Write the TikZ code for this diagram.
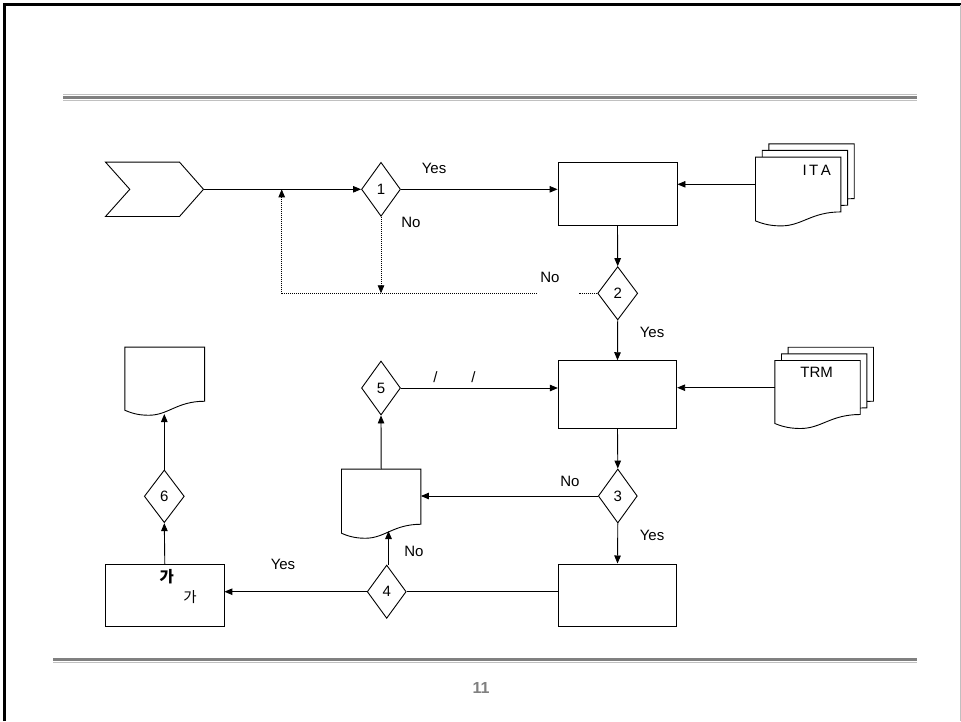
\documentclass[tikz,border=0pt]{standalone}
\usepackage{fontspec}
\setmainfont{Liberation Sans}
\newfontfamily\krfont{Noto Sans CJK KR}
\usetikzlibrary{shapes.geometric,arrows.meta,calc}
\definecolor{lightrule}{HTML}{C0C0C0}
\definecolor{darkrule}{HTML}{808080}
\tikzset{
  shp/.style={draw=black, line width=0.9pt},
  boxnode/.style={shp, rectangle, inner sep=0pt},
  decnode/.style={shp, diamond, inner sep=0pt, minimum width=39pt, minimum height=54pt, font=\fontsize{15}{18}\selectfont},
  anchorbox/.style={rectangle, draw=none, inner sep=0pt},
  lbl/.style={inner sep=0pt, font=\fontsize{15}{18}\selectfont},
  conn/.style={line width=0.9pt, -{Triangle[length=8pt,width=6.5pt]}},
  plainconn/.style={line width=0.9pt},
  dotconn/.style={line width=0.8pt, dotted, dash pattern=on 1pt off 1pt},
}
\newcommand{\drawdoc}[2]{%
  \draw[shp, fill=white] (#1.north west) -- (#1.north east) -- ($(#1.south east)+(0,-14)$)
    .. controls ($(#1.south east)+(-0.35*#2,-14)$) and ($(#1.south west)+(0.55*#2,0)$) .. ($(#1.south west)+(0.3*#2,0)$)
    .. controls ($(#1.south west)+(0.15*#2,0)$) and ($(#1.south west)+(0.06*#2,-3)$) .. ($(#1.south west)+(0,-5)$) -- cycle;}
\begin{document}
\begin{tikzpicture}[x=1pt,y=-1pt]
\useasboundingbox (0,0) rectangle (961,721);
% frame
\draw[line width=3pt, black] (4.5,721) -- (4.5,4.5) -- (961,4.5);
\draw[line width=1pt, lightrule] (960,4.5) -- (960,721);
% header rules
\draw[line width=1.3pt, lightrule] (63,94.5) -- (917,94.5);
\draw[line width=3pt, darkrule] (63,97.8) -- (917,97.8);
\draw[line width=1pt, lightrule] (63,100.8) -- (917,100.8);
% footer rules
\draw[line width=3pt, darkrule] (53,659) -- (917,659);
\draw[line width=1.3pt, lightrule] (53,662.5) -- (917,662.5);
\node[inner sep=0pt, text=darkrule, font=\fontsize{16}{19}\selectfont\bfseries] (pagenum) at (481,688) {11};

% start chevron
\node[anchorbox, minimum width=97.6pt, minimum height=54pt] (chev) at (154.5,189.3) {};
\draw[shp] (chev.north west) -- ($(chev.north east)+(-24,0)$) -- (chev.east) -- ($(chev.south east)+(-24,0)$) -- (chev.south west) -- ($(chev.west)+(24.3,0)$) -- cycle;

% boxes
\node[boxnode, minimum width=119pt, minimum height=63.4pt] (b1) at (617.5,194) {};
\node[boxnode, minimum width=118.4pt, minimum height=67.6pt] (b2) at (617.5,394.5) {};
\node[boxnode, minimum width=118.4pt, minimum height=62.7pt] (b3) at (617.5,595.3) {};
\node[boxnode, minimum width=118.3pt, minimum height=62.4pt] (b4) at (164.8,595.5) {};

% decisions
\node[decnode] (d1) at (381,189.3) {1};
\node[decnode, minimum width=40pt, minimum height=53.3pt] (d2) at (617.7,293.3) {2};
\node[decnode] (d3) at (617.8,496) {3};
\node[decnode, minimum height=53.3pt] (d4) at (386.7,591.7) {4};
\node[decnode] (d5) at (381,388) {5};
\node[decnode, minimum width=40pt, minimum height=52.7pt] (d6) at (164.3,496.3) {6};

% document stacks
\node[anchorbox, minimum width=85pt, minimum height=68.4pt] (itac) at (811.5,178.2) {};
\node[anchorbox, minimum width=85pt, minimum height=68.4pt] (itab) at (804.9,184.8) {};
\node[anchorbox, minimum width=85pt, minimum height=68.4pt] (ita) at (798.2,191.5) {};
\drawdoc{itac}{85}\drawdoc{itab}{85}\drawdoc{ita}{85}
\node[lbl] (italbl) at (816.7,170) {I\,T\,A};

\node[anchorbox, minimum width=85pt, minimum height=67.6pt] (trmc) at (830.8,381.2) {};
\node[anchorbox, minimum width=85pt, minimum height=67.6pt] (trmb) at (824.2,387.8) {};
\node[anchorbox, minimum width=85pt, minimum height=67.6pt] (trm) at (817.5,394.5) {};
\drawdoc{trmc}{85}\drawdoc{trmb}{85}\drawdoc{trm}{85}
\node[lbl] (trmlbl) at (816.7,372.3) {TRM};

% single documents
\node[anchorbox, minimum width=79.3pt, minimum height=67.7pt] (tldoc) at (164.7,381.2) {};
\drawdoc{tldoc}{79.3}
\node[anchorbox, minimum width=79pt, minimum height=68.7pt] (mdoc) at (381.2,503.7) {};
\drawdoc{mdoc}{79}

% texts in box 4
\node[inner sep=0pt, font=\krfont\bfseries\fontsize{15.5}{18}\selectfont] (kr1) at (166.7,576.5) {가};
\node[inner sep=0pt, font=\krfont\fontsize{14.5}{17}\selectfont] (kr2) at (190,596.7) {가};

% helper coordinates
\coordinate (join) at (281.7,189.3);
\coordinate (loopc) at (281.7,293.3);
\coordinate (nogapL) at (536.7,293.3);
\coordinate (nogapR) at (579,293.3);
\coordinate (mdocin) at (388.5,531);
\coordinate (tldocin) at (164.3,414);

% connectors
\draw[conn] (chev.east) -- (d1.west);
\draw[conn] (d1.east) -- (d1.east -| b1.west);
\draw[conn] ([yshift=7.2pt]ita.west) -- ([yshift=7.2pt]ita.west -| b1.east);
\draw[conn] (b1.south) -- (d2.north);
\draw[dotconn, -{Triangle[length=8pt,width=6.5pt]}] (d1.south) -- (d1.south |- loopc);
\draw[dotconn] (d2.west) -- (nogapR);
\draw[dotconn, -{Triangle[length=8pt,width=6.5pt]}] (nogapL) -- (loopc) -- (join);
\draw[conn] (d2.south) -- (b2.north);
\draw[conn] ([yshift=6.8pt]trm.west) -- ([yshift=6.8pt]trm.west -| b2.east);
\draw[conn] (d5.east) -- (d5.east -| b2.west);
\draw[conn] (b2.south) -- (d3.north);
\draw[conn] (d3.west) -- (d3.west -| mdoc.east);
\draw[conn] (d3.south) -- (b3.north);
\draw[plainconn] (d4.east) -- (d4.east -| b3.west);
\draw[conn] (d4.west) -- (d4.west -| b4.east);
\draw[conn, line width=1.3pt] (d4.north -| mdocin) -- (mdocin);
\draw[conn] (mdoc.north) -- (d5.south);
\draw[conn] (b4.north) -- (d6.south);
\draw[conn] (d6.north) -- (tldocin);

% labels
\node[lbl] (l1y) at (434,168) {Yes};
\node[lbl] (l1n) at (411,222) {No};
\node[lbl] (l2n) at (550,277.5) {No};
\node[lbl] (l2y) at (652,332) {Yes};
\node[lbl] (l3n) at (570,481.7) {No};
\node[lbl] (l3y) at (652,535) {Yes};
\node[lbl] (l4y) at (283,564.3) {Yes};
\node[lbl] (l4n) at (414,551.7) {No};
\node[lbl] (sl1) at (435.5,377.3) {/};
\node[lbl] (sl2) at (473.5,377.3) {/};
\end{tikzpicture}
\end{document}
